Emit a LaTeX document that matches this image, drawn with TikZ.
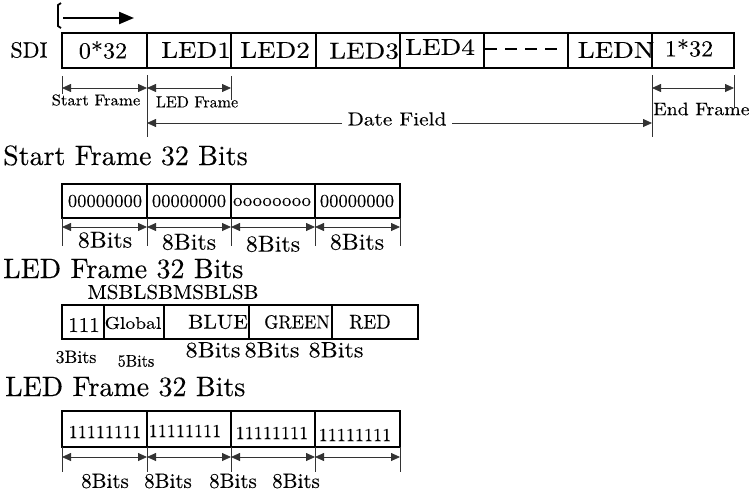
\documentclass[tikz,border=0pt]{standalone}
\usepackage{fontspec}
\setmainfont{lmroman10-regular.otf}
\usetikzlibrary{arrows.meta}
\begin{document}
\begin{tikzpicture}[x=1pt,y=-1pt,
  outer/.style={line width=2.6pt},
  divl/.style={line width=1.6pt},
  tip/.style={-{Triangle[length=9pt,width=8pt]}},
  dim/.style={line width=0.8pt, draw=black!80, {Triangle[length=9pt,width=8pt]}-{Triangle[length=9pt,width=8pt]}},
  extl/.style={line width=0.8pt, draw=black!80},
  lbl/.style 2 args={inner sep=0pt, font=\fontsize{#1}{#1}\selectfont\addfontfeature{FakeStretch=#2,FakeBold=0.2}}]
\useasboundingbox (0,0) rectangle (754,493);

% --- top direction arrow
\draw[line width=1.8pt] (61,3) -- (58,5) -- (58,26) -- (61,28);
\coordinate (as) at (63,18);
\coordinate (ae) at (134,18);
\draw[line width=2.2pt, -{Triangle[length=15pt,width=12pt]}] (as) -- (ae);

% --- SDI frame
\node[lbl={22}{1.0}] (sdi) at (29,50) {SDI};
\draw[outer] (62,33) rectangle (734,68);
\foreach \x in {147,231,316,400,484,568,652} \draw[divl] (\x,33) -- (\x,68);
\draw[line width=2.6pt, dash pattern=on 12pt off 8pt] (485,49) -- (557,49);
\node[lbl={23}{1.05}] (z32) at (103,50) {0*32};
\node[lbl={23}{1.18}] (l1) at (196,50) {LED1};
\node[lbl={23}{1.18}] (l2) at (275,50) {LED2};
\node[lbl={23}{1.18}] (l3) at (364,51) {LED3};
\node[lbl={23}{1.18}] (l4) at (440,47) {LED4};
\node[lbl={23}{1.18}] (ln) at (616,50) {LEDN};
\node[lbl={23}{1.05}] (o32) at (689,48) {1*32};

% extension lines
\coordinate (e1a) at (62,76);  \coordinate (e1b) at (62,94);
\coordinate (e2a) at (147,75); \coordinate (e2b) at (147,137);
\coordinate (e3a) at (231,76); \coordinate (e3b) at (231,100);
\coordinate (e4a) at (652,75); \coordinate (e4b) at (652,137);
\coordinate (e5a) at (734,75); \coordinate (e5b) at (734,108);
\draw[extl] (e1a) -- (e1b); \draw[extl] (e2a) -- (e2b); \draw[extl] (e3a) -- (e3b);
\draw[extl] (e4a) -- (e4b); \draw[extl] (e5a) -- (e5b);
\coordinate (d1) at (62,88); \coordinate (d2) at (147,88); \coordinate (d3) at (231,88);
\coordinate (d4) at (652,88); \coordinate (d5) at (734,88);
\draw[dim] (d1) -- (d2);
\draw[dim] (d2) -- (d3);
\draw[dim] (d4) -- (d5);
\node[lbl={15.5}{1.08}] (sf) at (96,100) {Start Frame};
\node[lbl={16}{1.0}] (lf) at (197,102) {LED Frame};
\node[lbl={18}{1.1}, anchor=west] (ef) at (653,109) {End Frame};
\node[lbl={19}{1.12}] (df) at (397,119) {Date Field};
\coordinate (dfl) at (147,123); \coordinate (dfr) at (652,123);
\coordinate (dfa) at (342,123); \coordinate (dfb) at (452,123);
\draw[extl, tip] (dfa) -- (dfl);
\draw[extl, tip] (dfb) -- (dfr);

% --- Start frame 32 bits
\node[lbl={28}{1.0}, anchor=base west] (t1) at (3,165) {Start Frame 32 Bits};
\draw[outer] (62,184) rectangle (400,218);
\foreach \x in {147,231,315} \draw[divl] (\x,184) -- (\x,218);
\node[lbl={18}{1.03}] (s1) at (105,201) {00000000};
\node[lbl={18}{1.03}] (s2) at (189,201) {00000000};
\node[lbl={18}{1.03}] (s3) at (272,202) {oooooooo};
\node[lbl={18}{1.03}] (s4) at (357,201) {00000000};
\foreach \x in {62,147,231,315,400} \draw[extl] (\x,218) -- (\x,246);
\foreach \a/\b in {62/147,147/231,231/315,315/400} \draw[dim] (\a,227) -- (\b,227);
\node[lbl={23}{1.04}] (b1) at (105,240) {8Bits};
\node[lbl={23}{1.04}] (b2) at (189,242) {8Bits};
\node[lbl={23}{1.04}] (b3) at (273,244) {8Bits};
\node[lbl={23}{1.04}] (b4) at (357,242) {8Bits};

% --- LED frame 32 bits
\node[lbl={28}{1.0}, anchor=base west] (t2) at (3,278) {LED Frame 32 Bits};
\node[lbl={20}{1.05}] (msb) at (173,292) {MSBLSBMSBLSB};
\draw[outer] (62,305) rectangle (418,339);
\foreach \x in {104,164,249,332} \draw[divl] (\x,305) -- (\x,339);
\node[lbl={21}{1.0}] (c1) at (84,325) {111};
\node[lbl={17}{1.15}] (c2) at (133,323) {Global};
\node[lbl={20}{1.08}] (c3) at (218,322) {BLUE};
\node[lbl={19}{0.95}] (c4) at (297,322) {GREEN};
\node[lbl={20}{0.95}] (c5) at (370,322) {RED};
\node[lbl={18}{1.0}] (g1) at (76,357) {3Bits};
\node[lbl={17}{0.95}] (g2) at (136,361) {5Bits};
\node[lbl={22}{1.1}] (g3) at (213,350) {8Bits};
\node[lbl={22}{1.1}] (g4) at (272,350) {8Bits};
\node[lbl={22}{1.1}] (g5) at (336,350) {8Bits};

% --- LED frame 32 bits (second)
\node[lbl={28}{1.0}, anchor=base west] (t3) at (5,396) {LED Frame 32 Bits};
\draw[outer] (62,411) rectangle (400,447);
\foreach \x in {147,231,315} \draw[divl] (\x,411) -- (\x,447);
\node[lbl={18.5}{0.98}] (u1) at (105,432) {11111111};
\node[lbl={18.5}{0.98}] (u2) at (185,431) {11111111};
\node[lbl={18.5}{0.98}] (u3) at (272,433) {11111111};
\node[lbl={18.5}{0.98}] (u4) at (355,435) {11111111};
\foreach \x in {62,147,231,315,400} \draw[extl] (\x,447) -- (\x,472);
\foreach \a/\b in {62/147,147/231,231/315,315/400} \draw[dim] (\a,457) -- (\b,457);
\node[lbl={21}{1.0}] (h1) at (105,481) {8Bits};
\node[lbl={21}{1.0}] (h2) at (168,481) {8Bits};
\node[lbl={21}{1.0}] (h3) at (233,481) {8Bits};
\node[lbl={21}{1.0}] (h4) at (296,481) {8Bits};
\end{tikzpicture}
\end{document}
